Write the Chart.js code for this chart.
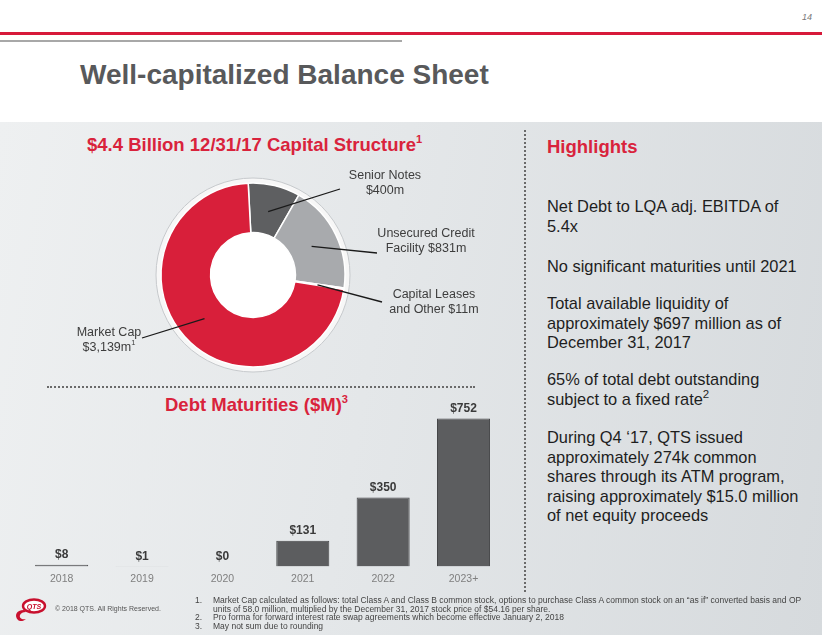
<!DOCTYPE html>
<html>
<head>
<meta charset="utf-8">
<script src="https://cdn.jsdelivr.net/npm/chart.js@4.4.1/dist/chart.umd.min.js"></script>
<style>
  html, body { margin: 0; padding: 0; }
  body {
    width: 822px; height: 635px; position: relative; overflow: hidden;
    font-family: 'Liberation Sans', Arial, sans-serif; background: #fff;
  }
  .abs { position: absolute; white-space: nowrap; }
  #panel {
    position: absolute; left: 0; top: 122px; width: 822px; height: 513px;
    background: linear-gradient(100deg, #eef0f1 0%, #e4e7e9 45%, #d6dadd 100%);
  }
  #redRule  { position: absolute; left: 0; top: 32px; width: 822px; height: 3px; background: #d7193a; }
  #greyRule { position: absolute; left: 0; top: 40px; width: 402px; height: 2px; background: #a8a8a8; }
  #pageNo { left: 802px; top: 12px; font-size: 9px; font-style: italic; color: #777; }
  #title { left: 80px; top: 58px; font-size: 28px; line-height: 34px; font-weight: bold; color: #58595b; }
  .red { color: #d9233c; font-weight: bold; font-size: 18.5px; line-height: 22px; }
  .red sup, .lbl sup { font-size: 0.6em; line-height: 0; vertical-align: 0.75em; }
  .hl sup { font-size: 0.7em; line-height: 0; vertical-align: 0.6em; }
  .lbl { font-size: 12.5px; line-height: 14.5px; color: #3d3d3d; text-align: center; }
  .hl { left: 547px; font-size: 16.4px; line-height: 19.6px; color: #1e1e1e; }
  #hDots { position: absolute; left: 47px; top: 386px; width: 428px; height: 0; border-top: 2px dotted #6a6a6a; }
  #vDots { position: absolute; left: 524px; top: 130px; width: 0; height: 462px; border-left: 2px dotted #6a6a6a; }
  canvas { position: absolute; }
  #capChart { left: 53px; top: 155px; }
  #debtChart { left: 0; top: 395px; }
  .foot { font-size: 8.5px; line-height: 8.6px; color: #444; }
</style>
</head>
<body>
<div id="panel"></div>
<div id="redRule"></div>
<div id="greyRule"></div>
<div class="abs" id="pageNo">14</div>
<div class="abs" id="title">Well-capitalized Balance Sheet</div>

<div class="abs red" style="left:87px; top:134px;">$4.4 Billion 12/31/17 Capital Structure<sup>1</sup></div>
<div class="abs red" style="left:165px; top:394px;">Debt Maturities ($M)<sup>3</sup></div>
<div class="abs red" style="left:547px; top:136px;">Highlights</div>

<div id="hDots"></div>
<div id="vDots"></div>

<canvas id="capChart" width="400" height="240"></canvas>
<canvas id="debtChart" width="520" height="202"></canvas>

<div class="abs lbl" style="left:345px; top:168px; width:80px;">Senior Notes<br>$400m</div>
<div class="abs lbl" style="left:376px; top:226px; width:100px;">Unsecured Credit<br>Facility $831m</div>
<div class="abs lbl" style="left:384px; top:287px; width:100px;">Capital Leases<br>and Other $11m</div>
<div class="abs lbl" style="left:69px; top:325px; width:80px;">Market Cap<br>$3,139m<sup>1</sup></div>

<div class="abs hl" style="top:197px;">Net Debt to LQA adj. EBITDA of<br>5.4x</div>
<div class="abs hl" style="top:257px;">No significant maturities until 2021</div>
<div class="abs hl" style="top:294px;">Total available liquidity of<br>approximately $697 million as of<br>December 31, 2017</div>
<div class="abs hl" style="top:370px;">65% of total debt outstanding<br>subject to a fixed rate<sup>2</sup></div>
<div class="abs hl" style="top:428px;">During Q4 ‘17, QTS issued<br>approximately 274k common<br>shares through its ATM program,<br>raising approximately $15.0 million<br>of net equity proceeds</div>

<svg class="abs" style="left:10px; top:596px;" width="44" height="28" viewBox="0 0 44 28">
  <path d="M14 14 C6 14 4 20 8 24 C10 26 14 25 16 23 C12 24 9 22 10 19 C11 17 13 16 16 16 Z" fill="#c8102e"/>
  <ellipse cx="24" cy="10" rx="11" ry="6.5" fill="#fff" stroke="#c8102e" stroke-width="2.4"/>
  <text x="24" y="12.6" font-size="7" font-weight="bold" font-style="italic" fill="#c8102e" text-anchor="middle" font-family="Liberation Sans, Arial">QTS</text>
</svg>
<div class="abs" style="left:55px; top:605px; font-size:7px; color:#555;">© 2018 QTS. All Rights Reserved.</div>

<div class="abs foot" style="left:195px; top:596px;">1.<br><br>2.<br>3.</div>
<div class="abs foot" style="left:213px; top:596px;">Market Cap calculated as follows: total Class A and Class B common stock, options to purchase Class A common stock on an “as if” converted basis and OP<br>units of 58.0 million, multiplied by the December 31, 2017 stock price of $54.16 per share.<br>Pro forma for forward interest rate swap agreements which become effective January 2, 2018<br>May not sum due to rounding</div>

<script>
  // ── Data ────────────────────────────────────────────────────────────────
  const capLabels = ['Senior Notes', 'Unsecured Credit Facility', 'Capital Leases and Other', 'Market Cap'];
  const capValues = [400, 831, 11, 3139];            // $m
  const debtYears = ['2018', '2019', '2020', '2021', '2022', '2023+'];
  const debtValues = [8, 1, 0, 131, 350, 752];       // $m

  // ── Colours ─────────────────────────────────────────────────────────────
  const RED      = '#d81f3a';
  const DARK     = '#5e5f61';
  const LIGHT    = '#a8aaad';
  const BAR      = '#5c5d5f';
  const BAR_EDGE = '#454648';
  const FONT     = "'Liberation Sans', Arial, sans-serif";

  // where each leader line ends, page coordinates (label anchors)
  const leaderEnds = [[340, 189], [377, 253], [382, 302], [142, 338]];
  const capOffset = [53, 155];

  // ── Doughnut: white halo behind the ring + leader lines ─────────────────
  const ringDecor = {
    id: 'ringDecor',
    beforeDatasetsDraw(chart) {
      const arc = chart.getDatasetMeta(0).data[0];
      if (!arc) return;
      const ctx = chart.ctx;
      ctx.save();
      ctx.beginPath();
      ctx.arc(arc.x, arc.y, arc.outerRadius + 5, 0, Math.PI * 2);
      ctx.fillStyle = '#f7f7f7';
      ctx.fill();
      ctx.lineWidth = 1;
      ctx.strokeStyle = '#c6c9cc';
      ctx.stroke();
      ctx.beginPath();
      ctx.arc(arc.x, arc.y, arc.innerRadius, 0, Math.PI * 2);
      ctx.fillStyle = '#ffffff';
      ctx.fill();
      ctx.restore();
    },
    afterDatasetsDraw(chart) {
      const ctx = chart.ctx;
      ctx.save();
      ctx.strokeStyle = '#1a1a1a';
      ctx.lineWidth = 1.3;
      chart.getDatasetMeta(0).data.forEach((arc, i) => {
        const mid = (arc.startAngle + arc.endAngle) / 2;
        const r = (arc.innerRadius + arc.outerRadius) / 2 - 2;
        ctx.beginPath();
        ctx.moveTo(arc.x + Math.cos(mid) * r, arc.y + Math.sin(mid) * r);
        ctx.lineTo(leaderEnds[i][0] - capOffset[0], leaderEnds[i][1] - capOffset[1]);
        ctx.stroke();
      });
      ctx.restore();
    }
  };

  new Chart(document.getElementById('capChart'), {
    type: 'doughnut',
    data: {
      labels: capLabels,
      datasets: [{
        data: capValues,
        backgroundColor: [DARK, LIGHT, LIGHT, RED],
        borderColor: '#ffffff',
        borderWidth: 1.5,
      }]
    },
    options: {
      responsive: false,
      animation: false,
      radius: 92,
      cutout: 55,
      rotation: -3,
      plugins: { legend: { display: false }, tooltip: { enabled: false } }
    },
    plugins: [ringDecor]
  });

  // ── Bar chart value labels ──────────────────────────────────────────────
  const valueLabels = {
    id: 'valueLabels',
    afterDatasetsDraw(chart) {
      const ctx = chart.ctx;
      ctx.save();
      ctx.font = 'bold 12px ' + FONT;
      ctx.fillStyle = '#3a3a3a';
      ctx.textAlign = 'center';
      ctx.textBaseline = 'middle';
      chart.getDatasetMeta(0).data.forEach((bar, i) => {
        ctx.fillText('$' + debtValues[i], bar.x, bar.y - 10);
      });
      ctx.restore();
    }
  };

  new Chart(document.getElementById('debtChart'), {
    type: 'bar',
    data: {
      labels: debtYears,
      datasets: [{
        data: debtValues,
        backgroundColor: BAR,
        borderColor: BAR_EDGE,
        borderWidth: 1,
        barPercentage: 0.66,
        categoryPercentage: 1,
      }]
    },
    options: {
      responsive: false,
      animation: false,
      layout: { padding: { left: 21.5, right: 16.3, top: 14, bottom: 6 } },
      scales: {
        x: {
          grid: { display: false, drawTicks: false },
          border: { display: false },
          ticks: { color: '#7f7f7f', font: { family: FONT, size: 10.5 }, padding: 6 }
        },
        y: { display: false, min: 0, max: 800 }
      },
      plugins: { legend: { display: false }, tooltip: { enabled: false } }
    },
    plugins: [valueLabels]
  });
</script>
</body>
</html>
